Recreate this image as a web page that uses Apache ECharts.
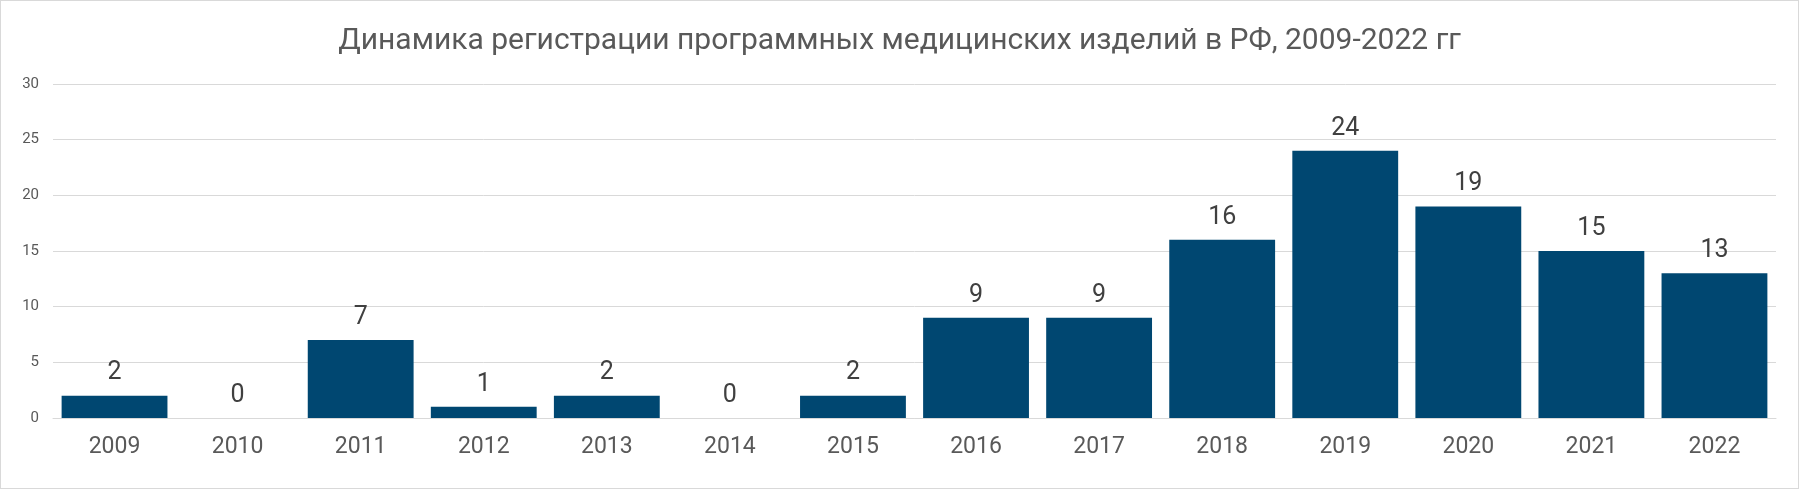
<!DOCTYPE html>
<html><head><meta charset="utf-8">
<script src="https://cdn.jsdelivr.net/npm/echarts@6/dist/echarts.min.js"></script>
<style>html,body{margin:0;padding:0;background:#fff}#c{width:1799px;height:489px;box-sizing:border-box;border:1px solid #d9d9d9}</style>
</head><body><div id="c"></div>
<script>
const categories=['2009','2010','2011','2012','2013','2014','2015','2016','2017','2018','2019','2020','2021','2022'];
const values=[2,0,7,1,2,0,2,9,9,16,24,19,15,13];
const yTicks={min:0,max:30,interval:5};
const chart=echarts.init(document.getElementById('c'));
chart.setOption({
  title:{text:'Динамика регистрации программных медицинских изделий в РФ, 2009-2022 гг',left:'center',top:20,
    textStyle:{fontFamily:'Roboto',fontWeight:'normal',fontSize:30,color:'#595959'}},
  grid:{left:52,right:22,top:83,bottom:70},
  xAxis:{type:'category',data:categories,axisTick:{show:false},
    axisLine:{lineStyle:{color:'#d9d9d9'}},
    axisLabel:{fontFamily:'Roboto',fontSize:23,color:'#595959',margin:18}},
  yAxis:{type:'value',min:yTicks.min,max:yTicks.max,interval:yTicks.interval,
    splitLine:{lineStyle:{color:'#d9d9d9'}},axisLine:{show:false},axisTick:{show:false},
    axisLabel:{fontFamily:'Roboto',fontSize:15,color:'#595959',margin:14}},
  series:[{type:'bar',data:values,barCategoryGap:'14%',itemStyle:{color:'#004771'},
    label:{show:true,position:'top',distance:10,fontFamily:'Roboto',fontSize:25,color:'#404040'}}],
  animation:false
});
</script></body></html>
